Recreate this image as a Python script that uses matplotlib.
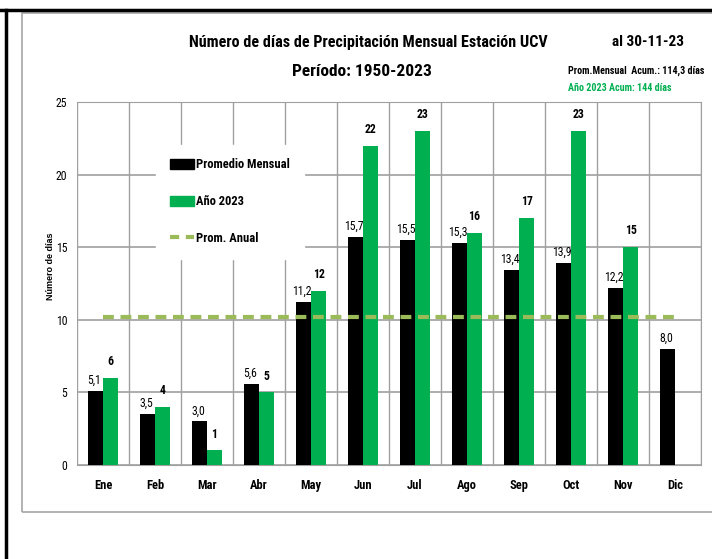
import matplotlib
matplotlib.use("Agg")
import matplotlib.pyplot as plt
from matplotlib.patches import Rectangle
from matplotlib.lines import Line2D
import numpy as np

meses = ["Ene", "Feb", "Mar", "Abr", "May", "Jun", "Jul", "Ago", "Sep", "Oct", "Nov", "Dic"]
promedio = [5.1, 3.5, 3.0, 5.6, 11.2, 15.7, 15.5, 15.3, 13.4, 13.9, 12.2, 8.0]
anio2023 = [6, 4, 1, 5, 12, 22, 23, 16, 17, 23, 15]
prom_anual = 10.2

plt.rcParams["font.family"] = ["Roboto Condensed", "DejaVu Sans"]

verde = "#00B050"
oliva = "#9BBB59"
gris = "#A0A0A0"

fig = plt.figure(figsize=(7.12, 5.59), dpi=100)
W, H = 712, 559

# marco exterior
fig.add_artist(Line2D([6 / W, 6 / W], [0, 1 - 10 / H], color="black", lw=2.5))
fig.add_artist(Line2D([0, 1], [1 - 10 / H, 1 - 10 / H], color="black", lw=2.5))
fig.add_artist(Rectangle((22 / W, 1 - 512 / H), 1.0, (512 - 13) / H, fill=False,
                         edgecolor="#A6A6A6", lw=1.2))

ax = fig.add_axes([77 / W, 1 - 465 / H, (701 - 77) / W, (465 - 102) / H])
x = np.arange(len(meses))
bw = 0.29

ax.bar(x - bw / 2, promedio, bw, color="black", zorder=3)
ax.bar(x[:len(anio2023)] + bw / 2, anio2023, bw, color=verde, zorder=3)
ax.plot([0, 11], [prom_anual, prom_anual], color=oliva, lw=3, ls=(0, (2.6, 1.6)), zorder=4)

for i, v in enumerate(promedio):
    ax.annotate(f"{v:.1f}".replace(".", ","), (x[i] - bw / 2, v), textcoords="offset points",
                xytext=(-1, 3), ha="center", va="bottom", fontsize=8.5)
for i, v in enumerate(anio2023):
    ax.annotate(str(v), (x[i] + bw / 2, v), textcoords="offset points",
                xytext=(0, 7), ha="center", va="bottom", fontsize=8.5, fontweight="bold")

ax.set_xlim(-0.5, 11.5)
ax.set_ylim(0, 25)
ax.set_yticks([0, 5, 10, 15, 20, 25])
ax.set_xticks(x)
ax.set_xticklabels(meses, fontweight="bold", fontsize=9)
ax.tick_params(axis="x", length=0, pad=10)
ax.tick_params(axis="y", length=0, labelsize=8.5, pad=7)
ax.set_xticks(np.arange(-0.5, 12, 1), minor=True)
ax.tick_params(axis="x", which="minor", length=0)
ax.grid(True, which="minor", axis="x", color=gris, lw=1, zorder=0)
ax.grid(True, which="major", axis="y", color=gris, lw=1.2, zorder=0)
for s in ax.spines.values():
    s.set_color(gris)
ax.spines["left"].set_visible(False)

fig.text(51 / W, 1 - 266 / H, "Número de días", rotation=90, ha="center", va="center",
         fontsize=6.5, fontweight="bold", family="Liberation Sans")

handles = [Rectangle((0, 0), 1, 1, color="black"),
           Rectangle((0, 0), 1, 1, color=verde),
           Line2D([], [], color=oliva, lw=3, ls=(0, (2.2, 1.6)))]
leg = ax.legend(handles, ["Promedio Mensual", "Año 2023", "Prom. Anual"],
                loc="upper left", bbox_to_anchor=(0.117, 0.9), frameon=True,
                fancybox=False, edgecolor="white", framealpha=1,
                labelspacing=1.9, handlelength=1.9, handletextpad=0.2,
                borderpad=1.1, handleheight=0.9, prop={"weight": "bold", "size": 9})
leg.set_zorder(5)

fig.text(368 / W, 1 - 42 / H, "Número de días de Precipitación Mensual Estación UCV",
         ha="center", va="center", fontsize=11.6, fontweight="bold")
fig.text(362 / W, 1 - 72 / H, "Período: 1950-2023", ha="center", va="center",
         fontsize=12.5, fontweight="bold")
fig.text(648 / W, 1 - 42 / H, "al 30-11-23", ha="center", va="center",
         fontsize=11, fontweight="bold")
fig.text(568 / W, 1 - 71 / H, "Prom.Mensual  Acum.: 114,3 días", ha="left", va="center",
         fontsize=7.2, fontweight="bold")
fig.text(568 / W, 1 - 88 / H, "Año 2023 Acum: 144 días", ha="left", va="center",
         fontsize=7.2, fontweight="bold", color=verde)

fig.savefig("out.png", dpi=100)
